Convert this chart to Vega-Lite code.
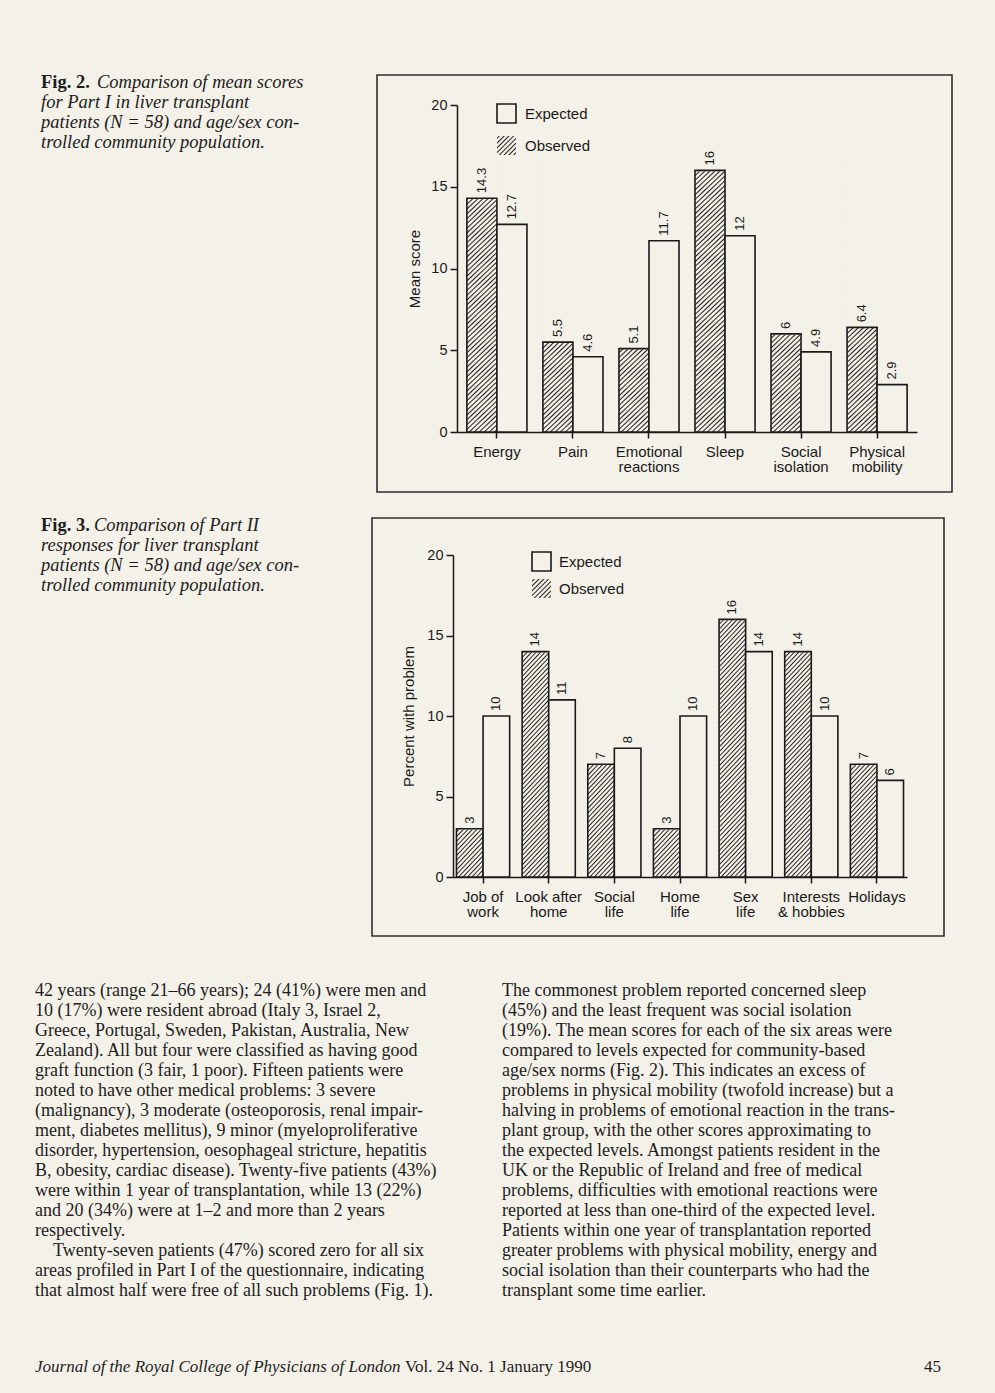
{
  "$schema": "https://vega.github.io/schema/vega-lite/v6.json",
  "background": "#f4f1e9",
  "padding": {"left": 35, "top": 73, "right": 50, "bottom": 25},
  "spacing": 44,
  "config": {
    "font": "Liberation Sans",
    "view": {"stroke": null},
    "bar": {"stroke": "#1a1a1a", "strokeWidth": 1.6},
    "axis": {"domainColor": "#1a1a1a", "tickColor": "#1a1a1a", "labelColor": "#1a1a1a", "titleColor": "#1a1a1a", "domainWidth": 1.5, "tickWidth": 1.5, "grid": false, "labelFont": "Liberation Sans", "titleFont": "Liberation Sans", "titleFontWeight": "normal"},
    "legend": {"orient": "none", "padding": 0, "symbolType": "square", "symbolSize": 361, "labelFontSize": 15, "labelFont": "Liberation Sans", "labelColor": "#1a1a1a", "symbolStrokeColor": "#1a1a1a", "symbolStrokeWidth": 1.6}
  },
  "datasets": {
    "fig2": [
      {"area": "Energy", "series": "Observed", "score": 14.3},
      {"area": "Energy", "series": "Expected", "score": 12.7},
      {"area": "Pain", "series": "Observed", "score": 5.5},
      {"area": "Pain", "series": "Expected", "score": 4.6},
      {"area": "Emotional\nreactions", "series": "Observed", "score": 5.1},
      {"area": "Emotional\nreactions", "series": "Expected", "score": 11.7},
      {"area": "Sleep", "series": "Observed", "score": 16},
      {"area": "Sleep", "series": "Expected", "score": 12},
      {"area": "Social\nisolation", "series": "Observed", "score": 6},
      {"area": "Social\nisolation", "series": "Expected", "score": 4.9},
      {"area": "Physical\nmobility", "series": "Observed", "score": 6.4},
      {"area": "Physical\nmobility", "series": "Expected", "score": 2.9}
    ],
    "fig3": [
      {"area": "Job of\nwork", "series": "Observed", "pct": 3},
      {"area": "Job of\nwork", "series": "Expected", "pct": 10},
      {"area": "Look after\nhome", "series": "Observed", "pct": 14},
      {"area": "Look after\nhome", "series": "Expected", "pct": 11},
      {"area": "Social\nlife", "series": "Observed", "pct": 7},
      {"area": "Social\nlife", "series": "Expected", "pct": 8},
      {"area": "Home\nlife", "series": "Observed", "pct": 3},
      {"area": "Home\nlife", "series": "Expected", "pct": 10},
      {"area": "Sex\nlife", "series": "Observed", "pct": 16},
      {"area": "Sex\nlife", "series": "Expected", "pct": 14},
      {"area": "Interests\n& hobbies", "series": "Observed", "pct": 14},
      {"area": "Interests\n& hobbies", "series": "Expected", "pct": 10},
      {"area": "Holidays", "series": "Observed", "pct": 7},
      {"area": "Holidays", "series": "Expected", "pct": 6}
    ],
    "cap2": [
      {"line": 1, "part": "label", "text": "Fig. 2."},
      {"line": 1, "part": "head", "text": "Comparison of mean scores"},
      {"line": 2, "part": "body", "text": "for Part I in liver transplant"},
      {"line": 3, "part": "body", "text": "patients (N = 58) and age/sex con-"},
      {"line": 4, "part": "body", "text": "trolled community population."}
    ],
    "cap3": [
      {"line": 1, "part": "label", "text": "Fig. 3."},
      {"line": 1, "part": "head", "text": "Comparison of Part II"},
      {"line": 2, "part": "body", "text": "responses for liver transplant"},
      {"line": 3, "part": "body", "text": "patients (N = 58) and age/sex con-"},
      {"line": 4, "part": "body", "text": "trolled community population."}
    ],
    "bodyLeft": [
      {"line": 1, "text": "42 years (range 21–66 years); 24 (41%) were men and"},
      {"line": 2, "text": "10 (17%) were resident abroad (Italy 3, Israel 2,"},
      {"line": 3, "text": "Greece, Portugal, Sweden, Pakistan, Australia, New"},
      {"line": 4, "text": "Zealand). All but four were classified as having good"},
      {"line": 5, "text": "graft function (3 fair, 1 poor). Fifteen patients were"},
      {"line": 6, "text": "noted to have other medical problems: 3 severe"},
      {"line": 7, "text": "(malignancy), 3 moderate (osteoporosis, renal impair-"},
      {"line": 8, "text": "ment, diabetes mellitus), 9 minor (myeloproliferative"},
      {"line": 9, "text": "disorder, hypertension, oesophageal stricture, hepatitis"},
      {"line": 10, "text": "B, obesity, cardiac disease). Twenty-five patients (43%)"},
      {"line": 11, "text": "were within 1 year of transplantation, while 13 (22%)"},
      {"line": 12, "text": "and 20 (34%) were at 1–2 and more than 2 years"},
      {"line": 13, "text": "respectively."},
      {"line": 14, "text": "Twenty-seven patients (47%) scored zero for all six"},
      {"line": 15, "text": "areas profiled in Part I of the questionnaire, indicating"},
      {"line": 16, "text": "that almost half were free of all such problems (Fig. 1)."}
    ],
    "bodyRight": [
      {"line": 1, "text": "The commonest problem reported concerned sleep"},
      {"line": 2, "text": "(45%) and the least frequent was social isolation"},
      {"line": 3, "text": "(19%). The mean scores for each of the six areas were"},
      {"line": 4, "text": "compared to levels expected for community-based"},
      {"line": 5, "text": "age/sex norms (Fig. 2). This indicates an excess of"},
      {"line": 6, "text": "problems in physical mobility (twofold increase) but a"},
      {"line": 7, "text": "halving in problems of emotional reaction in the trans-"},
      {"line": 8, "text": "plant group, with the other scores approximating to"},
      {"line": 9, "text": "the expected levels. Amongst patients resident in the"},
      {"line": 10, "text": "UK or the Republic of Ireland and free of medical"},
      {"line": 11, "text": "problems, difficulties with emotional reactions were"},
      {"line": 12, "text": "reported at less than one-third of the expected level."},
      {"line": 13, "text": "Patients within one year of transplantation reported"},
      {"line": 14, "text": "greater problems with physical mobility, energy and"},
      {"line": 15, "text": "social isolation than their counterparts who had the"},
      {"line": 16, "text": "transplant some time earlier."}
    ],
    "footer": [
      {"part": "journal", "text": "Journal of the Royal College of Physicians of London"},
      {"part": "issue", "text": "Vol. 24 No. 1 January 1990"},
      {"part": "page", "text": "45"}
    ]
  },
  "resolve": {"scale": {"fill": "independent", "opacity": "independent", "x": "independent", "y": "independent", "xOffset": "independent"}, "legend": {"fill": "independent", "opacity": "independent"}},
  "vconcat": [
    {
      "vconcat": [
        {
          "hconcat": [
            {
              "width": 300, "height": 80,
              "data": {"name": "cap2"},
              "encoding": {
                "x": {"datum": 0, "type": "quantitative", "scale": {"domain": [0, 1]}, "axis": null},
                "y": {"field": "line", "type": "ordinal", "axis": null},
                "text": {"field": "text", "type": "nominal"}
              },
              "layer": [
                {"transform": [{"filter": "datum.part === 'label'"}], "mark": {"type": "text", "align": "left", "baseline": "alphabetic", "dx": 6, "dy": 3, "font": "Liberation Serif", "fontSize": 18.5, "fontWeight": "bold", "fill": "#1d1d1d"}},
                {"transform": [{"filter": "datum.part === 'head'"}], "mark": {"type": "text", "align": "left", "baseline": "alphabetic", "dx": 62, "dy": 3, "font": "Liberation Serif", "fontSize": 18.5, "fontStyle": "italic", "fill": "#1d1d1d"}},
                {"transform": [{"filter": "datum.part === 'body'"}], "mark": {"type": "text", "align": "left", "baseline": "alphabetic", "dx": 6, "dy": 3, "font": "Liberation Serif", "fontSize": 18.5, "fontStyle": "italic", "fill": "#1d1d1d"}}
              ]
            },
            {
              "width": 575, "height": 417,
              "view": {"stroke": "#2e2e2e", "strokeWidth": 1.6},
              "data": {"name": "fig2"},
              "encoding": {
                "x": {"field": "area", "type": "nominal", "scale": {"domain": ["Energy", "Pain", "Emotional\nreactions", "Sleep", "Social\nisolation", "Physical\nmobility"], "range": [80, 540], "paddingInner": 0.21, "paddingOuter": 0.13}, "axis": {"title": null, "labelExpr": "split(datum.label, '\\n')", "labelAngle": 0, "labelFontSize": 15, "labelLineHeight": 15, "tickSize": 6, "labelPadding": 6, "offset": -60, "labelOverlap": false}},
                "xOffset": {"field": "series", "type": "nominal", "scale": {"domain": ["Observed", "Expected"]}},
                "y": {"field": "score", "type": "quantitative", "scale": {"domain": [0, 20], "range": [357, 30], "nice": false}, "axis": {"title": "Mean score", "values": [0, 5, 10, 15, 20], "offset": -80, "tickSize": 7, "labelPadding": 3, "labelFontSize": 14.5, "titleFontSize": 15, "titlePadding": 8}}
              },
              "layer": [
                {"transform": [{"filter": "datum.series === 'Observed'"}],
                 "mark": {"type": "bar", "stroke": null, "fill": {"gradient": "linear", "x1": 0, "y1": 0, "x2": 0.1119, "y2": 1.0911, "stops": [
          {"offset": 0, "color": "#f4f1e9"},
          {"offset": 0.0031, "color": "#f4f1e9"}, {"offset": 0.0078, "color": "#222222"}, {"offset": 0.0125, "color": "#f4f1e9"},
          {"offset": 0.0188, "color": "#f4f1e9"}, {"offset": 0.0234, "color": "#222222"}, {"offset": 0.0281, "color": "#f4f1e9"},
          {"offset": 0.0344, "color": "#f4f1e9"}, {"offset": 0.0391, "color": "#222222"}, {"offset": 0.0438, "color": "#f4f1e9"},
          {"offset": 0.05, "color": "#f4f1e9"}, {"offset": 0.0547, "color": "#222222"}, {"offset": 0.0594, "color": "#f4f1e9"},
          {"offset": 0.0656, "color": "#f4f1e9"}, {"offset": 0.0703, "color": "#222222"}, {"offset": 0.075, "color": "#f4f1e9"},
          {"offset": 0.0813, "color": "#f4f1e9"}, {"offset": 0.0859, "color": "#222222"}, {"offset": 0.0906, "color": "#f4f1e9"},
          {"offset": 0.0969, "color": "#f4f1e9"}, {"offset": 0.1016, "color": "#222222"}, {"offset": 0.1063, "color": "#f4f1e9"},
          {"offset": 0.1125, "color": "#f4f1e9"}, {"offset": 0.1172, "color": "#222222"}, {"offset": 0.1219, "color": "#f4f1e9"},
          {"offset": 0.1281, "color": "#f4f1e9"}, {"offset": 0.1328, "color": "#222222"}, {"offset": 0.1375, "color": "#f4f1e9"},
          {"offset": 0.1438, "color": "#f4f1e9"}, {"offset": 0.1484, "color": "#222222"}, {"offset": 0.1531, "color": "#f4f1e9"},
          {"offset": 0.1594, "color": "#f4f1e9"}, {"offset": 0.1641, "color": "#222222"}, {"offset": 0.1688, "color": "#f4f1e9"},
          {"offset": 0.175, "color": "#f4f1e9"}, {"offset": 0.1797, "color": "#222222"}, {"offset": 0.1844, "color": "#f4f1e9"},
          {"offset": 0.1906, "color": "#f4f1e9"}, {"offset": 0.1953, "color": "#222222"}, {"offset": 0.2, "color": "#f4f1e9"},
          {"offset": 0.2063, "color": "#f4f1e9"}, {"offset": 0.2109, "color": "#222222"}, {"offset": 0.2156, "color": "#f4f1e9"},
          {"offset": 0.2219, "color": "#f4f1e9"}, {"offset": 0.2266, "color": "#222222"}, {"offset": 0.2313, "color": "#f4f1e9"},
          {"offset": 0.2375, "color": "#f4f1e9"}, {"offset": 0.2422, "color": "#222222"}, {"offset": 0.2469, "color": "#f4f1e9"},
          {"offset": 0.2531, "color": "#f4f1e9"}, {"offset": 0.2578, "color": "#222222"}, {"offset": 0.2625, "color": "#f4f1e9"},
          {"offset": 0.2688, "color": "#f4f1e9"}, {"offset": 0.2734, "color": "#222222"}, {"offset": 0.2781, "color": "#f4f1e9"},
          {"offset": 0.2844, "color": "#f4f1e9"}, {"offset": 0.2891, "color": "#222222"}, {"offset": 0.2938, "color": "#f4f1e9"},
          {"offset": 0.3, "color": "#f4f1e9"}, {"offset": 0.3047, "color": "#222222"}, {"offset": 0.3094, "color": "#f4f1e9"},
          {"offset": 0.3156, "color": "#f4f1e9"}, {"offset": 0.3203, "color": "#222222"}, {"offset": 0.325, "color": "#f4f1e9"},
          {"offset": 0.3313, "color": "#f4f1e9"}, {"offset": 0.3359, "color": "#222222"}, {"offset": 0.3406, "color": "#f4f1e9"},
          {"offset": 0.3469, "color": "#f4f1e9"}, {"offset": 0.3516, "color": "#222222"}, {"offset": 0.3563, "color": "#f4f1e9"},
          {"offset": 0.3625, "color": "#f4f1e9"}, {"offset": 0.3672, "color": "#222222"}, {"offset": 0.3719, "color": "#f4f1e9"},
          {"offset": 0.3781, "color": "#f4f1e9"}, {"offset": 0.3828, "color": "#222222"}, {"offset": 0.3875, "color": "#f4f1e9"},
          {"offset": 0.3938, "color": "#f4f1e9"}, {"offset": 0.3984, "color": "#222222"}, {"offset": 0.4031, "color": "#f4f1e9"},
          {"offset": 0.4094, "color": "#f4f1e9"}, {"offset": 0.4141, "color": "#222222"}, {"offset": 0.4188, "color": "#f4f1e9"},
          {"offset": 0.425, "color": "#f4f1e9"}, {"offset": 0.4297, "color": "#222222"}, {"offset": 0.4344, "color": "#f4f1e9"},
          {"offset": 0.4406, "color": "#f4f1e9"}, {"offset": 0.4453, "color": "#222222"}, {"offset": 0.45, "color": "#f4f1e9"},
          {"offset": 0.4563, "color": "#f4f1e9"}, {"offset": 0.4609, "color": "#222222"}, {"offset": 0.4656, "color": "#f4f1e9"},
          {"offset": 0.4719, "color": "#f4f1e9"}, {"offset": 0.4766, "color": "#222222"}, {"offset": 0.4813, "color": "#f4f1e9"},
          {"offset": 0.4875, "color": "#f4f1e9"}, {"offset": 0.4922, "color": "#222222"}, {"offset": 0.4969, "color": "#f4f1e9"},
          {"offset": 0.5031, "color": "#f4f1e9"}, {"offset": 0.5078, "color": "#222222"}, {"offset": 0.5125, "color": "#f4f1e9"},
          {"offset": 0.5188, "color": "#f4f1e9"}, {"offset": 0.5234, "color": "#222222"}, {"offset": 0.5281, "color": "#f4f1e9"},
          {"offset": 0.5344, "color": "#f4f1e9"}, {"offset": 0.5391, "color": "#222222"}, {"offset": 0.5438, "color": "#f4f1e9"},
          {"offset": 0.55, "color": "#f4f1e9"}, {"offset": 0.5547, "color": "#222222"}, {"offset": 0.5594, "color": "#f4f1e9"},
          {"offset": 0.5656, "color": "#f4f1e9"}, {"offset": 0.5703, "color": "#222222"}, {"offset": 0.575, "color": "#f4f1e9"},
          {"offset": 0.5813, "color": "#f4f1e9"}, {"offset": 0.5859, "color": "#222222"}, {"offset": 0.5906, "color": "#f4f1e9"},
          {"offset": 0.5969, "color": "#f4f1e9"}, {"offset": 0.6016, "color": "#222222"}, {"offset": 0.6063, "color": "#f4f1e9"},
          {"offset": 0.6125, "color": "#f4f1e9"}, {"offset": 0.6172, "color": "#222222"}, {"offset": 0.6219, "color": "#f4f1e9"},
          {"offset": 0.6281, "color": "#f4f1e9"}, {"offset": 0.6328, "color": "#222222"}, {"offset": 0.6375, "color": "#f4f1e9"},
          {"offset": 0.6438, "color": "#f4f1e9"}, {"offset": 0.6484, "color": "#222222"}, {"offset": 0.6531, "color": "#f4f1e9"},
          {"offset": 0.6594, "color": "#f4f1e9"}, {"offset": 0.6641, "color": "#222222"}, {"offset": 0.6688, "color": "#f4f1e9"},
          {"offset": 0.675, "color": "#f4f1e9"}, {"offset": 0.6797, "color": "#222222"}, {"offset": 0.6844, "color": "#f4f1e9"},
          {"offset": 0.6906, "color": "#f4f1e9"}, {"offset": 0.6953, "color": "#222222"}, {"offset": 0.7, "color": "#f4f1e9"},
          {"offset": 0.7063, "color": "#f4f1e9"}, {"offset": 0.7109, "color": "#222222"}, {"offset": 0.7156, "color": "#f4f1e9"},
          {"offset": 0.7219, "color": "#f4f1e9"}, {"offset": 0.7266, "color": "#222222"}, {"offset": 0.7313, "color": "#f4f1e9"},
          {"offset": 0.7375, "color": "#f4f1e9"}, {"offset": 0.7422, "color": "#222222"}, {"offset": 0.7469, "color": "#f4f1e9"},
          {"offset": 0.7531, "color": "#f4f1e9"}, {"offset": 0.7578, "color": "#222222"}, {"offset": 0.7625, "color": "#f4f1e9"},
          {"offset": 0.7688, "color": "#f4f1e9"}, {"offset": 0.7734, "color": "#222222"}, {"offset": 0.7781, "color": "#f4f1e9"},
          {"offset": 0.7844, "color": "#f4f1e9"}, {"offset": 0.7891, "color": "#222222"}, {"offset": 0.7938, "color": "#f4f1e9"},
          {"offset": 0.8, "color": "#f4f1e9"}, {"offset": 0.8047, "color": "#222222"}, {"offset": 0.8094, "color": "#f4f1e9"},
          {"offset": 0.8156, "color": "#f4f1e9"}, {"offset": 0.8203, "color": "#222222"}, {"offset": 0.825, "color": "#f4f1e9"},
          {"offset": 0.8313, "color": "#f4f1e9"}, {"offset": 0.8359, "color": "#222222"}, {"offset": 0.8406, "color": "#f4f1e9"},
          {"offset": 0.8469, "color": "#f4f1e9"}, {"offset": 0.8516, "color": "#222222"}, {"offset": 0.8563, "color": "#f4f1e9"},
          {"offset": 0.8625, "color": "#f4f1e9"}, {"offset": 0.8672, "color": "#222222"}, {"offset": 0.8719, "color": "#f4f1e9"},
          {"offset": 0.8781, "color": "#f4f1e9"}, {"offset": 0.8828, "color": "#222222"}, {"offset": 0.8875, "color": "#f4f1e9"},
          {"offset": 0.8938, "color": "#f4f1e9"}, {"offset": 0.8984, "color": "#222222"}, {"offset": 0.9031, "color": "#f4f1e9"},
          {"offset": 0.9094, "color": "#f4f1e9"}, {"offset": 0.9141, "color": "#222222"}, {"offset": 0.9188, "color": "#f4f1e9"},
          {"offset": 0.925, "color": "#f4f1e9"}, {"offset": 0.9297, "color": "#222222"}, {"offset": 0.9344, "color": "#f4f1e9"},
          {"offset": 0.9406, "color": "#f4f1e9"}, {"offset": 0.9453, "color": "#222222"}, {"offset": 0.95, "color": "#f4f1e9"},
          {"offset": 0.9563, "color": "#f4f1e9"}, {"offset": 0.9609, "color": "#222222"}, {"offset": 0.9656, "color": "#f4f1e9"},
          {"offset": 0.9719, "color": "#f4f1e9"}, {"offset": 0.9766, "color": "#222222"}, {"offset": 0.9813, "color": "#f4f1e9"},
          {"offset": 0.9875, "color": "#f4f1e9"}, {"offset": 0.9922, "color": "#222222"}, {"offset": 0.9969, "color": "#f4f1e9"},
          {"offset": 1, "color": "#f4f1e9"}]}},
                 "encoding": {"y": {"datum": 17, "type": "quantitative", "scale": {"domain": [0, 20], "range": [357, 30], "nice": false}, "axis": {"title": "Mean score", "values": [0, 5, 10, 15, 20], "offset": -80, "tickSize": 7, "labelPadding": 3, "labelFontSize": 14.5, "titleFontSize": 15, "titlePadding": 8}}, "y2": {"datum": 0}}},
                {"transform": [{"filter": "datum.series === 'Observed'"}], "mark": {"type": "bar", "fill": "#f4f1e9", "stroke": "#f4f1e9", "strokeWidth": 1.5}, "encoding": {"y2": {"datum": 17}}},
                {"transform": [{"filter": "datum.series === 'Observed'"}], "mark": {"type": "bar", "fill": null, "stroke": "#1a1a1a", "strokeWidth": 1.6}},
                {"transform": [{"filter": "datum.series === 'Expected'"}], "mark": {"type": "bar", "stroke": "#1a1a1a", "strokeWidth": 1.6},
                 "encoding": {"fill": {"field": "series", "type": "nominal",
                   "scale": {"domain": ["Expected"], "range": ["#f4f1e9"]},
                   "legend": {"legendX": 119, "legendY": 28, "title": null, "labelOffset": 8}}}},
                {"transform": [{"filter": "datum.series === 'none'"}],
                 "mark": {"type": "bar", "stroke": "#1a1a1a", "strokeWidth": 1.6, "fill": {"gradient": "linear", "x1": 0, "y1": 0, "x2": 1, "y2": 1, "stops": [
                     {"offset": 0, "color": "#f4f1e9"},
                     {"offset": 0.025, "color": "#f4f1e9"}, {"offset": 0.0625, "color": "#222222"}, {"offset": 0.1, "color": "#f4f1e9"},
                     {"offset": 0.15, "color": "#f4f1e9"}, {"offset": 0.1875, "color": "#222222"}, {"offset": 0.225, "color": "#f4f1e9"},
                     {"offset": 0.275, "color": "#f4f1e9"}, {"offset": 0.3125, "color": "#222222"}, {"offset": 0.35, "color": "#f4f1e9"},
                     {"offset": 0.4, "color": "#f4f1e9"}, {"offset": 0.4375, "color": "#222222"}, {"offset": 0.475, "color": "#f4f1e9"},
                     {"offset": 0.525, "color": "#f4f1e9"}, {"offset": 0.5625, "color": "#222222"}, {"offset": 0.6, "color": "#f4f1e9"},
                     {"offset": 0.65, "color": "#f4f1e9"}, {"offset": 0.6875, "color": "#222222"}, {"offset": 0.725, "color": "#f4f1e9"},
                     {"offset": 0.775, "color": "#f4f1e9"}, {"offset": 0.8125, "color": "#222222"}, {"offset": 0.85, "color": "#f4f1e9"},
                     {"offset": 0.9, "color": "#f4f1e9"}, {"offset": 0.9375, "color": "#222222"}, {"offset": 0.975, "color": "#f4f1e9"},
                     {"offset": 1, "color": "#f4f1e9"}]}},
                 "encoding": {"opacity": {"field": "series", "type": "ordinal", "scale": {"domain": ["Observed"], "range": [1]}, "legend": {"legendX": 119, "legendY": 60, "title": null, "labelOffset": 8}}}},
                {"mark": {"type": "text", "angle": 270, "align": "left", "baseline": "middle", "dx": 5, "fontSize": 13, "fill": "#1a1a1a"}, "encoding": {"text": {"field": "score", "type": "nominal"}}}
              ]
            }
          ],
          "spacing": 41,
          "resolve": {"scale": {"fill": "independent", "opacity": "independent", "x": "independent", "y": "independent", "xOffset": "independent"}, "legend": {"fill": "independent", "opacity": "independent"}}
        },
        {
          "hconcat": [
            {
              "width": 300, "height": 80,
              "data": {"name": "cap3"},
              "encoding": {
                "x": {"datum": 0, "type": "quantitative", "scale": {"domain": [0, 1]}, "axis": null},
                "y": {"field": "line", "type": "ordinal", "axis": null},
                "text": {"field": "text", "type": "nominal"}
              },
              "layer": [
                {"transform": [{"filter": "datum.part === 'label'"}], "mark": {"type": "text", "align": "left", "baseline": "alphabetic", "dx": 6, "dy": 3, "font": "Liberation Serif", "fontSize": 18.5, "fontWeight": "bold", "fill": "#1d1d1d"}},
                {"transform": [{"filter": "datum.part === 'head'"}], "mark": {"type": "text", "align": "left", "baseline": "alphabetic", "dx": 59, "dy": 3, "font": "Liberation Serif", "fontSize": 18.5, "fontStyle": "italic", "fill": "#1d1d1d"}},
                {"transform": [{"filter": "datum.part === 'body'"}], "mark": {"type": "text", "align": "left", "baseline": "alphabetic", "dx": 6, "dy": 3, "font": "Liberation Serif", "fontSize": 18.5, "fontStyle": "italic", "fill": "#1d1d1d"}}
              ]
            },
            {
              "width": 572, "height": 418,
              "view": {"stroke": "#2e2e2e", "strokeWidth": 1.6},
              "data": {"name": "fig3"},
              "encoding": {
                "x": {"field": "area", "type": "nominal", "scale": {"domain": ["Job of\nwork", "Look after\nhome", "Social\nlife", "Home\nlife", "Sex\nlife", "Interests\n& hobbies", "Holidays"], "range": [81, 535], "paddingInner": 0.19, "paddingOuter": 0.053}, "axis": {"title": null, "labelExpr": "split(datum.label, '\\n')", "labelAngle": 0, "labelFontSize": 15, "labelLineHeight": 15, "tickSize": 6, "labelPadding": 6, "offset": -59, "labelOverlap": false}},
                "xOffset": {"field": "series", "type": "nominal", "scale": {"domain": ["Observed", "Expected"]}},
                "y": {"field": "pct", "type": "quantitative", "scale": {"domain": [0, 20], "range": [359, 37], "nice": false}, "axis": {"title": "Percent with problem", "values": [0, 5, 10, 15, 20], "offset": -81, "tickSize": 7, "labelPadding": 3, "labelFontSize": 14.5, "titleFontSize": 15, "titlePadding": 10}}
              },
              "layer": [
                {"transform": [{"filter": "datum.series === 'Observed'"}],
                 "mark": {"type": "bar", "stroke": null, "fill": {"gradient": "linear", "x1": 0, "y1": 0, "x2": 0.1119, "y2": 1.0911, "stops": [
          {"offset": 0, "color": "#f4f1e9"},
          {"offset": 0.0031, "color": "#f4f1e9"}, {"offset": 0.0078, "color": "#222222"}, {"offset": 0.0125, "color": "#f4f1e9"},
          {"offset": 0.0188, "color": "#f4f1e9"}, {"offset": 0.0234, "color": "#222222"}, {"offset": 0.0281, "color": "#f4f1e9"},
          {"offset": 0.0344, "color": "#f4f1e9"}, {"offset": 0.0391, "color": "#222222"}, {"offset": 0.0438, "color": "#f4f1e9"},
          {"offset": 0.05, "color": "#f4f1e9"}, {"offset": 0.0547, "color": "#222222"}, {"offset": 0.0594, "color": "#f4f1e9"},
          {"offset": 0.0656, "color": "#f4f1e9"}, {"offset": 0.0703, "color": "#222222"}, {"offset": 0.075, "color": "#f4f1e9"},
          {"offset": 0.0813, "color": "#f4f1e9"}, {"offset": 0.0859, "color": "#222222"}, {"offset": 0.0906, "color": "#f4f1e9"},
          {"offset": 0.0969, "color": "#f4f1e9"}, {"offset": 0.1016, "color": "#222222"}, {"offset": 0.1063, "color": "#f4f1e9"},
          {"offset": 0.1125, "color": "#f4f1e9"}, {"offset": 0.1172, "color": "#222222"}, {"offset": 0.1219, "color": "#f4f1e9"},
          {"offset": 0.1281, "color": "#f4f1e9"}, {"offset": 0.1328, "color": "#222222"}, {"offset": 0.1375, "color": "#f4f1e9"},
          {"offset": 0.1438, "color": "#f4f1e9"}, {"offset": 0.1484, "color": "#222222"}, {"offset": 0.1531, "color": "#f4f1e9"},
          {"offset": 0.1594, "color": "#f4f1e9"}, {"offset": 0.1641, "color": "#222222"}, {"offset": 0.1688, "color": "#f4f1e9"},
          {"offset": 0.175, "color": "#f4f1e9"}, {"offset": 0.1797, "color": "#222222"}, {"offset": 0.1844, "color": "#f4f1e9"},
          {"offset": 0.1906, "color": "#f4f1e9"}, {"offset": 0.1953, "color": "#222222"}, {"offset": 0.2, "color": "#f4f1e9"},
          {"offset": 0.2063, "color": "#f4f1e9"}, {"offset": 0.2109, "color": "#222222"}, {"offset": 0.2156, "color": "#f4f1e9"},
          {"offset": 0.2219, "color": "#f4f1e9"}, {"offset": 0.2266, "color": "#222222"}, {"offset": 0.2313, "color": "#f4f1e9"},
          {"offset": 0.2375, "color": "#f4f1e9"}, {"offset": 0.2422, "color": "#222222"}, {"offset": 0.2469, "color": "#f4f1e9"},
          {"offset": 0.2531, "color": "#f4f1e9"}, {"offset": 0.2578, "color": "#222222"}, {"offset": 0.2625, "color": "#f4f1e9"},
          {"offset": 0.2688, "color": "#f4f1e9"}, {"offset": 0.2734, "color": "#222222"}, {"offset": 0.2781, "color": "#f4f1e9"},
          {"offset": 0.2844, "color": "#f4f1e9"}, {"offset": 0.2891, "color": "#222222"}, {"offset": 0.2938, "color": "#f4f1e9"},
          {"offset": 0.3, "color": "#f4f1e9"}, {"offset": 0.3047, "color": "#222222"}, {"offset": 0.3094, "color": "#f4f1e9"},
          {"offset": 0.3156, "color": "#f4f1e9"}, {"offset": 0.3203, "color": "#222222"}, {"offset": 0.325, "color": "#f4f1e9"},
          {"offset": 0.3313, "color": "#f4f1e9"}, {"offset": 0.3359, "color": "#222222"}, {"offset": 0.3406, "color": "#f4f1e9"},
          {"offset": 0.3469, "color": "#f4f1e9"}, {"offset": 0.3516, "color": "#222222"}, {"offset": 0.3563, "color": "#f4f1e9"},
          {"offset": 0.3625, "color": "#f4f1e9"}, {"offset": 0.3672, "color": "#222222"}, {"offset": 0.3719, "color": "#f4f1e9"},
          {"offset": 0.3781, "color": "#f4f1e9"}, {"offset": 0.3828, "color": "#222222"}, {"offset": 0.3875, "color": "#f4f1e9"},
          {"offset": 0.3938, "color": "#f4f1e9"}, {"offset": 0.3984, "color": "#222222"}, {"offset": 0.4031, "color": "#f4f1e9"},
          {"offset": 0.4094, "color": "#f4f1e9"}, {"offset": 0.4141, "color": "#222222"}, {"offset": 0.4188, "color": "#f4f1e9"},
          {"offset": 0.425, "color": "#f4f1e9"}, {"offset": 0.4297, "color": "#222222"}, {"offset": 0.4344, "color": "#f4f1e9"},
          {"offset": 0.4406, "color": "#f4f1e9"}, {"offset": 0.4453, "color": "#222222"}, {"offset": 0.45, "color": "#f4f1e9"},
          {"offset": 0.4563, "color": "#f4f1e9"}, {"offset": 0.4609, "color": "#222222"}, {"offset": 0.4656, "color": "#f4f1e9"},
          {"offset": 0.4719, "color": "#f4f1e9"}, {"offset": 0.4766, "color": "#222222"}, {"offset": 0.4813, "color": "#f4f1e9"},
          {"offset": 0.4875, "color": "#f4f1e9"}, {"offset": 0.4922, "color": "#222222"}, {"offset": 0.4969, "color": "#f4f1e9"},
          {"offset": 0.5031, "color": "#f4f1e9"}, {"offset": 0.5078, "color": "#222222"}, {"offset": 0.5125, "color": "#f4f1e9"},
          {"offset": 0.5188, "color": "#f4f1e9"}, {"offset": 0.5234, "color": "#222222"}, {"offset": 0.5281, "color": "#f4f1e9"},
          {"offset": 0.5344, "color": "#f4f1e9"}, {"offset": 0.5391, "color": "#222222"}, {"offset": 0.5438, "color": "#f4f1e9"},
          {"offset": 0.55, "color": "#f4f1e9"}, {"offset": 0.5547, "color": "#222222"}, {"offset": 0.5594, "color": "#f4f1e9"},
          {"offset": 0.5656, "color": "#f4f1e9"}, {"offset": 0.5703, "color": "#222222"}, {"offset": 0.575, "color": "#f4f1e9"},
          {"offset": 0.5813, "color": "#f4f1e9"}, {"offset": 0.5859, "color": "#222222"}, {"offset": 0.5906, "color": "#f4f1e9"},
          {"offset": 0.5969, "color": "#f4f1e9"}, {"offset": 0.6016, "color": "#222222"}, {"offset": 0.6063, "color": "#f4f1e9"},
          {"offset": 0.6125, "color": "#f4f1e9"}, {"offset": 0.6172, "color": "#222222"}, {"offset": 0.6219, "color": "#f4f1e9"},
          {"offset": 0.6281, "color": "#f4f1e9"}, {"offset": 0.6328, "color": "#222222"}, {"offset": 0.6375, "color": "#f4f1e9"},
          {"offset": 0.6438, "color": "#f4f1e9"}, {"offset": 0.6484, "color": "#222222"}, {"offset": 0.6531, "color": "#f4f1e9"},
          {"offset": 0.6594, "color": "#f4f1e9"}, {"offset": 0.6641, "color": "#222222"}, {"offset": 0.6688, "color": "#f4f1e9"},
          {"offset": 0.675, "color": "#f4f1e9"}, {"offset": 0.6797, "color": "#222222"}, {"offset": 0.6844, "color": "#f4f1e9"},
          {"offset": 0.6906, "color": "#f4f1e9"}, {"offset": 0.6953, "color": "#222222"}, {"offset": 0.7, "color": "#f4f1e9"},
          {"offset": 0.7063, "color": "#f4f1e9"}, {"offset": 0.7109, "color": "#222222"}, {"offset": 0.7156, "color": "#f4f1e9"},
          {"offset": 0.7219, "color": "#f4f1e9"}, {"offset": 0.7266, "color": "#222222"}, {"offset": 0.7313, "color": "#f4f1e9"},
          {"offset": 0.7375, "color": "#f4f1e9"}, {"offset": 0.7422, "color": "#222222"}, {"offset": 0.7469, "color": "#f4f1e9"},
          {"offset": 0.7531, "color": "#f4f1e9"}, {"offset": 0.7578, "color": "#222222"}, {"offset": 0.7625, "color": "#f4f1e9"},
          {"offset": 0.7688, "color": "#f4f1e9"}, {"offset": 0.7734, "color": "#222222"}, {"offset": 0.7781, "color": "#f4f1e9"},
          {"offset": 0.7844, "color": "#f4f1e9"}, {"offset": 0.7891, "color": "#222222"}, {"offset": 0.7938, "color": "#f4f1e9"},
          {"offset": 0.8, "color": "#f4f1e9"}, {"offset": 0.8047, "color": "#222222"}, {"offset": 0.8094, "color": "#f4f1e9"},
          {"offset": 0.8156, "color": "#f4f1e9"}, {"offset": 0.8203, "color": "#222222"}, {"offset": 0.825, "color": "#f4f1e9"},
          {"offset": 0.8313, "color": "#f4f1e9"}, {"offset": 0.8359, "color": "#222222"}, {"offset": 0.8406, "color": "#f4f1e9"},
          {"offset": 0.8469, "color": "#f4f1e9"}, {"offset": 0.8516, "color": "#222222"}, {"offset": 0.8563, "color": "#f4f1e9"},
          {"offset": 0.8625, "color": "#f4f1e9"}, {"offset": 0.8672, "color": "#222222"}, {"offset": 0.8719, "color": "#f4f1e9"},
          {"offset": 0.8781, "color": "#f4f1e9"}, {"offset": 0.8828, "color": "#222222"}, {"offset": 0.8875, "color": "#f4f1e9"},
          {"offset": 0.8938, "color": "#f4f1e9"}, {"offset": 0.8984, "color": "#222222"}, {"offset": 0.9031, "color": "#f4f1e9"},
          {"offset": 0.9094, "color": "#f4f1e9"}, {"offset": 0.9141, "color": "#222222"}, {"offset": 0.9188, "color": "#f4f1e9"},
          {"offset": 0.925, "color": "#f4f1e9"}, {"offset": 0.9297, "color": "#222222"}, {"offset": 0.9344, "color": "#f4f1e9"},
          {"offset": 0.9406, "color": "#f4f1e9"}, {"offset": 0.9453, "color": "#222222"}, {"offset": 0.95, "color": "#f4f1e9"},
          {"offset": 0.9563, "color": "#f4f1e9"}, {"offset": 0.9609, "color": "#222222"}, {"offset": 0.9656, "color": "#f4f1e9"},
          {"offset": 0.9719, "color": "#f4f1e9"}, {"offset": 0.9766, "color": "#222222"}, {"offset": 0.9813, "color": "#f4f1e9"},
          {"offset": 0.9875, "color": "#f4f1e9"}, {"offset": 0.9922, "color": "#222222"}, {"offset": 0.9969, "color": "#f4f1e9"},
          {"offset": 1, "color": "#f4f1e9"}]}},
                 "encoding": {"y": {"datum": 17, "type": "quantitative", "scale": {"domain": [0, 20], "range": [359, 37], "nice": false}, "axis": {"title": "Percent with problem", "values": [0, 5, 10, 15, 20], "offset": -81, "tickSize": 7, "labelPadding": 3, "labelFontSize": 14.5, "titleFontSize": 15, "titlePadding": 10}}, "y2": {"datum": 0}}},
                {"transform": [{"filter": "datum.series === 'Observed'"}], "mark": {"type": "bar", "fill": "#f4f1e9", "stroke": "#f4f1e9", "strokeWidth": 1.5}, "encoding": {"y2": {"datum": 17}}},
                {"transform": [{"filter": "datum.series === 'Observed'"}], "mark": {"type": "bar", "fill": null, "stroke": "#1a1a1a", "strokeWidth": 1.6}},
                {"transform": [{"filter": "datum.series === 'Expected'"}], "mark": {"type": "bar", "stroke": "#1a1a1a", "strokeWidth": 1.6},
                 "encoding": {"fill": {"field": "series", "type": "nominal",
                   "scale": {"domain": ["Expected"], "range": ["#f4f1e9"]},
                   "legend": {"legendX": 159, "legendY": 33, "title": null, "labelOffset": 7}}}},
                {"transform": [{"filter": "datum.series === 'none'"}],
                 "mark": {"type": "bar", "stroke": "#1a1a1a", "strokeWidth": 1.6, "fill": {"gradient": "linear", "x1": 0, "y1": 0, "x2": 1, "y2": 1, "stops": [
                     {"offset": 0, "color": "#f4f1e9"},
                     {"offset": 0.025, "color": "#f4f1e9"}, {"offset": 0.0625, "color": "#222222"}, {"offset": 0.1, "color": "#f4f1e9"},
                     {"offset": 0.15, "color": "#f4f1e9"}, {"offset": 0.1875, "color": "#222222"}, {"offset": 0.225, "color": "#f4f1e9"},
                     {"offset": 0.275, "color": "#f4f1e9"}, {"offset": 0.3125, "color": "#222222"}, {"offset": 0.35, "color": "#f4f1e9"},
                     {"offset": 0.4, "color": "#f4f1e9"}, {"offset": 0.4375, "color": "#222222"}, {"offset": 0.475, "color": "#f4f1e9"},
                     {"offset": 0.525, "color": "#f4f1e9"}, {"offset": 0.5625, "color": "#222222"}, {"offset": 0.6, "color": "#f4f1e9"},
                     {"offset": 0.65, "color": "#f4f1e9"}, {"offset": 0.6875, "color": "#222222"}, {"offset": 0.725, "color": "#f4f1e9"},
                     {"offset": 0.775, "color": "#f4f1e9"}, {"offset": 0.8125, "color": "#222222"}, {"offset": 0.85, "color": "#f4f1e9"},
                     {"offset": 0.9, "color": "#f4f1e9"}, {"offset": 0.9375, "color": "#222222"}, {"offset": 0.975, "color": "#f4f1e9"},
                     {"offset": 1, "color": "#f4f1e9"}]}},
                 "encoding": {"opacity": {"field": "series", "type": "ordinal", "scale": {"domain": ["Observed"], "range": [1]}, "legend": {"legendX": 159, "legendY": 60, "title": null, "labelOffset": 7}}}},
                {"mark": {"type": "text", "angle": 270, "align": "left", "baseline": "middle", "dx": 5, "fontSize": 13, "fill": "#1a1a1a"}, "encoding": {"text": {"field": "pct", "type": "nominal"}}}
              ]
            }
          ],
          "spacing": 36,
          "resolve": {"scale": {"fill": "independent", "opacity": "independent", "x": "independent", "y": "independent", "xOffset": "independent"}, "legend": {"fill": "independent", "opacity": "independent"}}
        }
      ],
      "spacing": 23,
      "resolve": {"scale": {"fill": "independent", "opacity": "independent", "x": "independent", "y": "independent", "xOffset": "independent"}, "legend": {"fill": "independent", "opacity": "independent"}}
    },
    {
      "vconcat": [
        {
          "hconcat": [
            {
              "width": 455, "height": 320,
              "data": {"name": "bodyLeft"},
              "encoding": {
                "x": {"datum": 0, "type": "quantitative", "scale": {"domain": [0, 1]}, "axis": null},
                "y": {"field": "line", "type": "ordinal", "axis": null},
                "text": {"field": "text", "type": "nominal"}
              },
              "layer": [
                {"transform": [{"filter": "datum.line !== 14"}], "mark": {"type": "text", "align": "left", "baseline": "alphabetic", "dy": 5, "font": "Liberation Serif", "fontSize": 18, "fill": "#1d1d1d"}},
                {"transform": [{"filter": "datum.line === 14"}], "mark": {"type": "text", "align": "left", "baseline": "alphabetic", "dx": 18, "dy": 5, "font": "Liberation Serif", "fontSize": 18, "fill": "#1d1d1d"}}
              ]
            },
            {
              "width": 440, "height": 320,
              "data": {"name": "bodyRight"},
              "mark": {"type": "text", "align": "left", "baseline": "alphabetic", "dy": 5, "font": "Liberation Serif", "fontSize": 18, "fill": "#1d1d1d"},
              "encoding": {
                "x": {"datum": 0, "type": "quantitative", "scale": {"domain": [0, 1]}, "axis": null},
                "y": {"field": "line", "type": "ordinal", "axis": null},
                "text": {"field": "text", "type": "nominal"}
              }
            }
          ],
          "spacing": 12
        },
        {
          "width": 906, "height": 20,
          "data": {"name": "footer"},
          "encoding": {
            "text": {"field": "text", "type": "nominal"}
          },
          "layer": [
            {"transform": [{"filter": "datum.part === 'journal'"}], "mark": {"type": "text", "align": "left", "baseline": "alphabetic", "dy": 5, "font": "Liberation Serif", "fontSize": 17, "fontStyle": "italic", "fill": "#1d1d1d"}, "encoding": {"x": {"datum": 0, "type": "quantitative", "scale": {"domain": [0, 1]}, "axis": null}}},
            {"transform": [{"filter": "datum.part === 'issue'"}], "mark": {"type": "text", "align": "left", "baseline": "alphabetic", "dx": 370, "dy": 5, "font": "Liberation Serif", "fontSize": 17, "fill": "#1d1d1d"}, "encoding": {"x": {"datum": 0, "type": "quantitative", "scale": {"domain": [0, 1]}, "axis": null}}},
            {"transform": [{"filter": "datum.part === 'page'"}], "mark": {"type": "text", "align": "right", "baseline": "alphabetic", "dy": 5, "font": "Liberation Serif", "fontSize": 17, "fill": "#1d1d1d"}, "encoding": {"x": {"datum": 1, "type": "quantitative", "scale": {"domain": [0, 1]}, "axis": null}}}
          ]
        }
      ],
      "spacing": 56
    }
  ]
}
